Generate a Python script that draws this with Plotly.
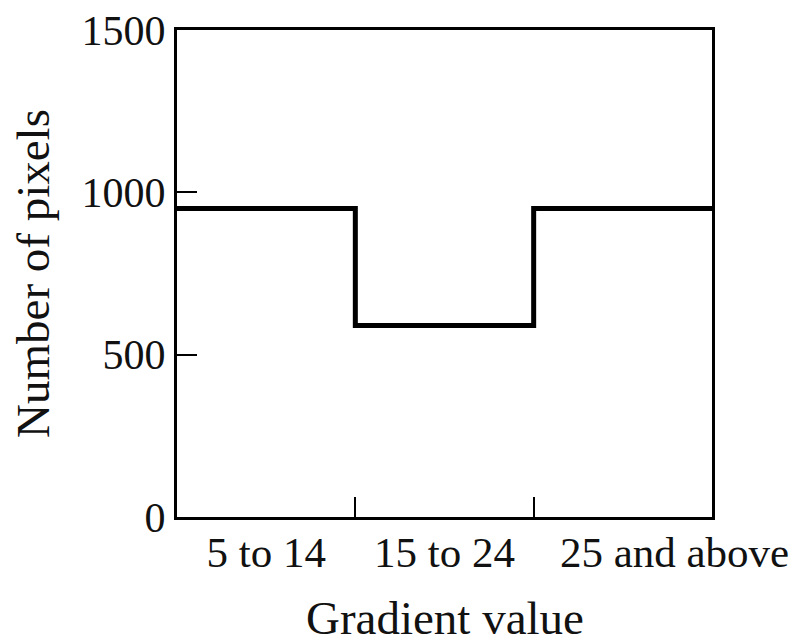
import plotly.graph_objects as go

# Histogram of gradient magnitudes, drawn as a step outline
categories = ["5 to 14", "15 to 24", "25 and above"]
pixel_counts = [950, 590, 950]
bin_edges = [0, 1, 2, 3]
y_ticks = [0, 500, 1000, 1500]

# step outline: each bin holds its count until the next edge
step_x = bin_edges
step_y = pixel_counts + [pixel_counts[-1]]

# labels sit at bin centres; the long last one is nudged right so it fits
label_pos = [(bin_edges[i] + bin_edges[i + 1]) / 2 for i in range(len(categories))]
label_pos[-1] += 0.29

serif = "Liberation Serif"
ink = "#111"

fig = go.Figure()
fig.add_trace(go.Scatter(
    x=step_x, y=step_y, mode="lines", line_shape="hv",
    line=dict(color="black", width=5), showlegend=False, hoverinfo="skip",
))

fig.update_layout(
    width=805, height=639,
    margin=dict(l=177, r=93, t=30, b=122),
    paper_bgcolor="white", plot_bgcolor="white",
    font=dict(family=serif, size=42, color=ink),
    xaxis=dict(
        range=[bin_edges[0], bin_edges[-1]],
        tickmode="array", tickvals=label_pos, ticktext=categories,
        tickangle=0, automargin=False,
        ticks="", showgrid=False, zeroline=False,
        showline=True, linecolor="black", linewidth=3, mirror=True,
        tickfont=dict(family=serif, size=43, color=ink),
        ticklabelstandoff=-5,
        minor=dict(tickmode="array", tickvals=bin_edges[1:-1], ticks="inside",
                   ticklen=20, tickwidth=2, tickcolor="black", showgrid=False),
    ),
    yaxis=dict(
        range=[0, 1500], automargin=False,
        tickmode="array", tickvals=y_ticks,
        ticks="inside", ticklen=20, tickwidth=2, tickcolor="black",
        showgrid=False, zeroline=False,
        showline=True, linecolor="black", linewidth=3, mirror=True,
        tickfont=dict(family=serif, size=42, color=ink),
        title=dict(text="Number of pixels", font=dict(family=serif, size=47, color=ink),
                   standoff=18),
    ),
    annotations=[dict(
        text="Gradient value", xref="paper", yref="paper", x=0.5, y=0,
        xanchor="center", yanchor="middle", yshift=-101, showarrow=False,
        font=dict(family=serif, size=47, color=ink),
    )],
)

fig.write_html("out.html")
